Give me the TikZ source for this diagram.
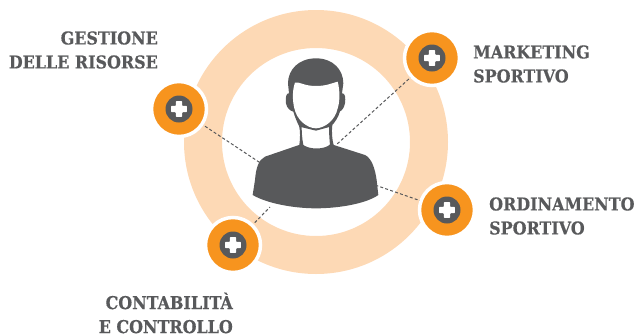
\documentclass[tikz,border=0pt]{standalone}
\usepackage{fontspec}
\setmainfont{DejaVu Serif Condensed}[BoldFeatures={FakeBold=0.5}]
\definecolor{ringc}{HTML}{FDD9B5}
\definecolor{orangec}{HTML}{F7941E}
\definecolor{grayc}{HTML}{58595B}
\tikzset{
  badge/.style={circle,fill=orangec,draw=white,line width=3.5pt,minimum size=55pt,inner sep=0pt},
  hub/.style={circle,fill=grayc,minimum size=27pt,inner sep=0pt},
  link/.style={draw=grayc,line width=1pt,dash pattern=on 3pt off 2.2pt},
  lab/.style={text=grayc,font=\bfseries\fontsize{17.7}{24}\selectfont,inner sep=0pt},
}
\newcommand{\plussign}[1]{%
  \fill[white,rounded corners=0.6pt] ([shift={(-3.2,-7.8)}]#1) -- ++(6.4,0) -- ++(0,4.6) -- ++(4.6,0) -- ++(0,6.4) -- ++(-4.6,0) -- ++(0,4.6) -- ++(-6.4,0) -- ++(0,-4.6) -- ++(-4.6,0) -- ++(0,-6.4) -- ++(4.6,0) -- cycle;}
\begin{document}
\begin{tikzpicture}[x=1pt,y=-1pt]
\useasboundingbox (0,0) rectangle (638,335);
% ring
\coordinate (c) at (316,142);
\fill[ringc,even odd rule] (c) circle[radius=132] (c) circle[radius=94];
% anchors on the figure
\coordinate (pa) at (262,164);
\coordinate (pb) at (336,145);
\coordinate (pc) at (375,185);
\coordinate (pd) at (270,207);
% positions of badges
\coordinate (ba) at (179,109);
\coordinate (bb) at (432,58);
\coordinate (bc) at (447,210);
\coordinate (bd) at (233,245);
\draw[link] (ba) -- (pa);
\draw[link] (bb) -- (pb);
\draw[link] (bc) -- (pc);
\draw[link] (bd) -- (pd);
% badges
\foreach \n in {ba,bb,bc,bd}{
  \node[badge] at (\n) {};
  \node[hub] at (\n) {};
  \plussign{\n}
}
% person
\begin{scope}[shift={(240,40)},x=0.3333pt,y=-0.3333pt]
  \fill[grayc] (186,312) -- (75,350) .. controls (55,360) and (48,385) .. (45,420)
    -- (38,465) .. controls (80,490) and (160,505) .. (228,505)
    .. controls (300,505) and (380,490) .. (415,465)
    -- (410,420) .. controls (405,385) and (395,355) .. (375,345)
    -- (272,312) .. controls (255,330) and (205,330) .. (186,312) -- cycle;
  \fill[grayc] (228,55) .. controls (280,55) and (310,90) .. (310,130)
    -- (306,160) .. controls (316,158) and (317,175) .. (315,190)
    .. controls (312,205) and (305,212) .. (300,214)
    .. controls (296,230) and (285,248) .. (272,260)
    -- (228,272) -- (178,260)
    .. controls (172,248) and (165,232) .. (160,215)
    .. controls (150,212) and (141,205) .. (138,190)
    .. controls (136,175) and (138,158) .. (147,160)
    -- (144,130) .. controls (144,90) and (175,55) .. (228,55) -- cycle;
  \fill[grayc] (177,255) .. controls (181,275) and (181,295) .. (178,315) -- (190,315)
    .. controls (186,295) and (185,275) .. (185,255) -- cycle;
  \fill[grayc] (277,255) .. controls (275,275) and (275,295) .. (282,318) -- (270,316)
    .. controls (268,295) and (267,275) .. (267,255) -- cycle;
  \fill[white] (165,128) .. controls (178,124) and (190,138) .. (228,138)
    .. controls (258,138) and (275,130) .. (293,125)
    .. controls (300,150) and (300,185) .. (293,205)
    .. controls (286,240) and (255,264) .. (228,265)
    .. controls (200,264) and (171,240) .. (163,205)
    .. controls (157,180) and (157,150) .. (165,128) -- cycle;
\end{scope}
% labels
\node[lab,align=right,anchor=east] (la) at (158,50) {GESTIONE\\DELLE RISORSE};
\node[lab,align=left,anchor=west] (lb) at (473,64) {MARKETING\\SPORTIVO};
\node[lab,align=left,anchor=west] (lc) at (489,216) {ORDINAMENTO\\SPORTIVO};
\node[lab,align=right,anchor=east] (ld) at (233,313) {CONTABILITÀ\\E CONTROLLO};
\end{tikzpicture}
\end{document}
